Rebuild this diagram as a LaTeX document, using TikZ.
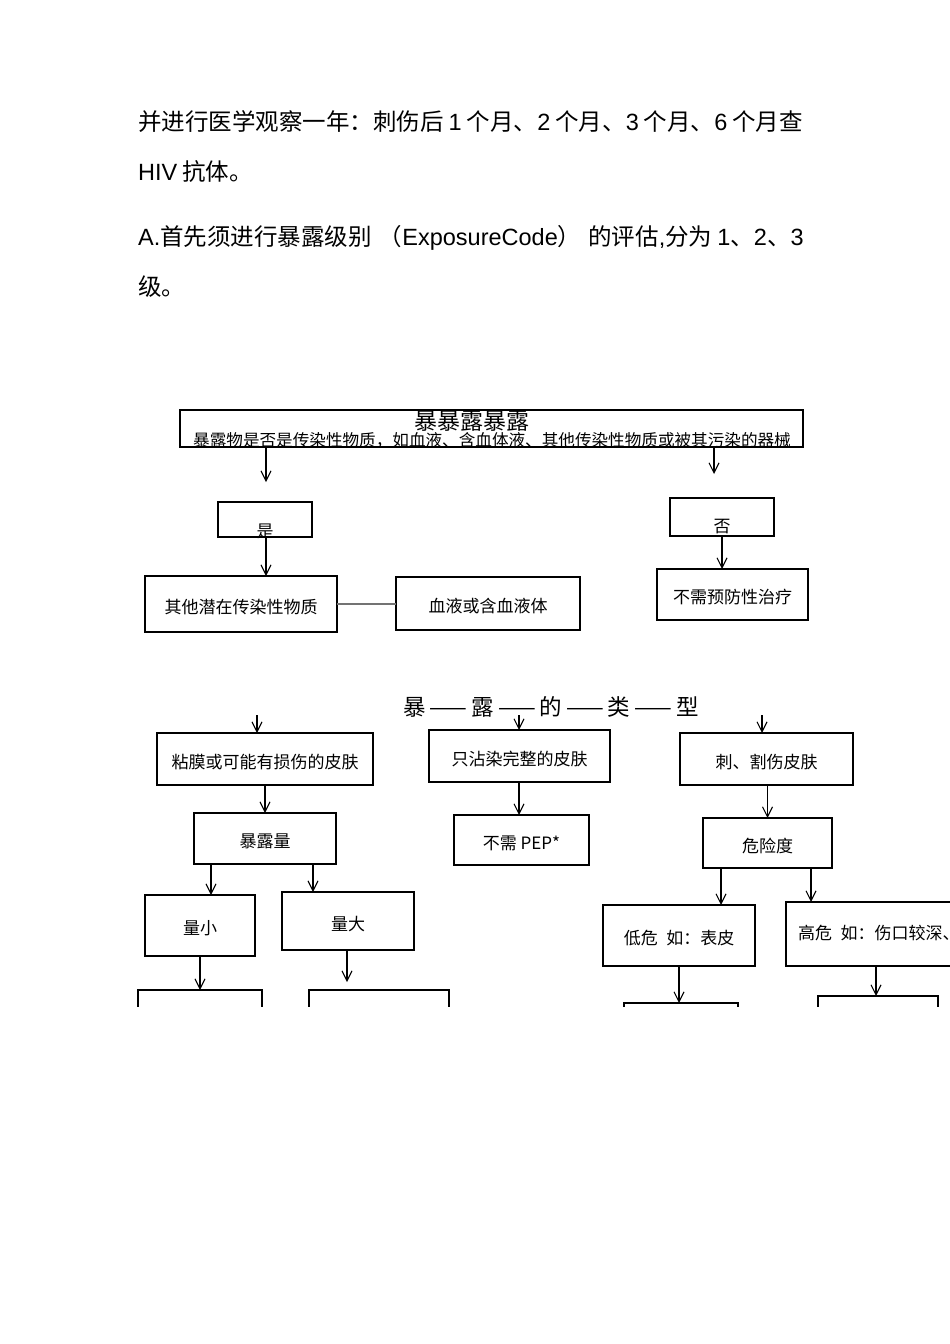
\documentclass[tikz,border=0pt]{standalone}
\usepackage{fontspec}
\setmainfont{Noto Sans CJK SC}
\newfontfamily\lat{Liberation Sans}
\usetikzlibrary{arrows.meta}
\tikzset{
  box/.style={draw, line width=1.1pt, inner sep=0pt, outer sep=0pt, font=\fontsize{17}{18}\selectfont, text height=19pt, text depth=1pt},
  tbox/.style={box, line width=2pt},
  txt/.style={inner sep=0pt, outer sep=0pt, font=\fontsize{17}{18}\selectfont},
  para/.style={anchor=west, inner sep=0pt, font=\fontsize{23.5}{26}\selectfont},
  arr/.style={line width=1.1pt, -{Straight Barb[length=10pt,width=10pt]}},
  link/.style={line width=1.1pt, draw=black!55}
}
\newcommand{\dg}{\hspace{5pt}}
\newcommand{\dgb}{\hspace{7pt}}
\newcommand{\dd}{\hspace{4pt}——\hspace{4pt}}
\begin{document}
\begin{tikzpicture}[x=1pt,y=-1pt]
\useasboundingbox[fill=white] (0,0) rectangle (950,1344);
% paragraph text
\node[para] (p1) at (138,122) {并进行医学观察一年：刺伤后\dg{\lat 1}\dg 个月、{\lat 2}\dg 个月、{\lat 3}\dg 个月、{\lat 6}\dg 个月查};
\node[para] (p2) at (138,172) {{\lat HIV}\dg 抗体。};
\node[para] (p3) at (138,238) {{\lat A.}首先须进行暴露级别\dgb（{\lat ExposureCode}）\dgb 的评估{\lat ,}分为\dg{\lat 1}、{\lat 2}、{\lat 3}};
\node[para] (p4) at (138,287) {级。};
\begin{scope}
\clip (0,0) rectangle (950,1006);
% first part
\node[box, minimum width=623pt, minimum height=37pt] (top) at (491.5,428.5) {};
\node[txt, font=\fontsize{23}{24}\selectfont] (topT) at (472,421) {暴暴露暴露};
\node[txt, font=\fontsize{16.6}{18}\selectfont] (topS) at (492,440) {暴露物是否是传染性物质，如血液、含血体液、其他传染性物质或被其污染的器械};
\coordinate (a1) at (266,482);
\coordinate (a2) at (714,474);
\draw[arr] (top.south -| a1) -- (a1);
\draw[arr] (top.south -| a2) -- (a2);
\node[box, minimum width=94pt, minimum height=35pt] (yes) at (265,519.5) {};
\node[txt] (yesT) at (265,531) {是};
\node[box, minimum width=104pt, minimum height=38pt] (no) at (722,517) {};
\node[txt] (noT) at (722,527) {否};
\node[tbox, minimum width=192pt, minimum height=56pt] (oth) at (241,604) {其他潜在传染性物质};
\node[box, minimum width=184pt, minimum height=53pt] (blood) at (488,603.5) {血液或含血液体};
\node[tbox, minimum width=151pt, minimum height=51pt] (noneed) at (732.5,594.5) {不需预防性治疗};
\draw[arr] (yes.south -| a1) -- (oth.north -| a1);
\draw[arr] (no.south) -- (noneed.north -| no.south);
\draw[link] (oth.east |- 0,604) -- (blood.west |- 0,604);
% second part
\node[txt, font=\fontsize{22.5}{24}\selectfont] (ttl) at (551,707) {暴\dd 露\dd 的\dd 类\dd 型};
\coordinate (s1) at (257,715);
\coordinate (s2) at (519,715);
\coordinate (s3) at (762,715);
\node[box, minimum width=216pt, minimum height=52pt] (muc) at (265,759) {粘膜或可能有损伤的皮肤};
\node[tbox, minimum width=181pt, minimum height=52pt] (intact) at (519.5,756) {只沾染完整的皮肤};
\node[box, minimum width=173pt, minimum height=52pt] (stab) at (766.5,759) {刺、割伤皮肤};
\draw[arr] (s1) -- (s1 |- muc.north);
\draw[arr] (s2) -- (s2 |- intact.north);
\draw[arr] (s3) -- (s3 |- stab.north);
\node[tbox, minimum width=142pt, minimum height=51pt] (amt) at (265,838.5) {暴露量};
\node[box, minimum width=135pt, minimum height=50pt] (pep) at (521.5,840) {不需 PEP*};
\node[tbox, minimum width=129pt, minimum height=50pt] (risk) at (767.5,843) {危险度};
\draw[arr] (muc.south -| amt.north) -- (amt.north);
\draw[arr] (intact.south -| s2) -- (pep.north -| s2);
\draw[arr] (stab.south -| risk.north) -- (risk.north);
\node[tbox, minimum width=110pt, minimum height=61pt] (small) at (200,925.5) {量小};
\node[box, minimum width=132pt, minimum height=58pt] (large) at (348,921) {量大};
\node[tbox, minimum width=152pt, minimum height=61pt] (low) at (679,935.5) {低危\enspace 如：表皮};
\node[tbox, minimum width=214pt, minimum height=64pt] (high) at (893,934) {};
\node[txt, anchor=west] (highT) at (798,933) {高危\enspace 如：伤口较深、};
\draw[arr] ([xshift=-54pt]amt.south) -- ([xshift=-54pt]amt.south |- small.north);
\draw[arr] ([xshift=48pt]amt.south) -- ([xshift=48pt]amt.south |- large.north);
\draw[arr] ([xshift=-46.5pt]risk.south) -- ([xshift=-46.5pt]risk.south |- low.north);
\draw[arr] ([xshift=43.5pt]risk.south) -- ([xshift=43.5pt]risk.south |- high.north);
\node[box, minimum width=124pt, minimum height=40pt] (b1) at (200,1010) {};
\node[box, minimum width=140pt, minimum height=40pt] (b2) at (379,1010) {};
\node[box, minimum width=114pt, minimum height=40pt] (b3) at (681,1023) {};
\node[box, minimum width=120pt, minimum height=40pt] (b4) at (878,1016) {};
\draw[arr] (small.south) -- (small.south |- b1.north);
\draw[arr] (large.south -| 347,0) -- (347,982);
\draw[arr] (low.south) -- (low.south |- b3.north);
\draw[arr] (high.south -| 876,0) -- (876,996);
\end{scope}
\end{tikzpicture}
\end{document}
